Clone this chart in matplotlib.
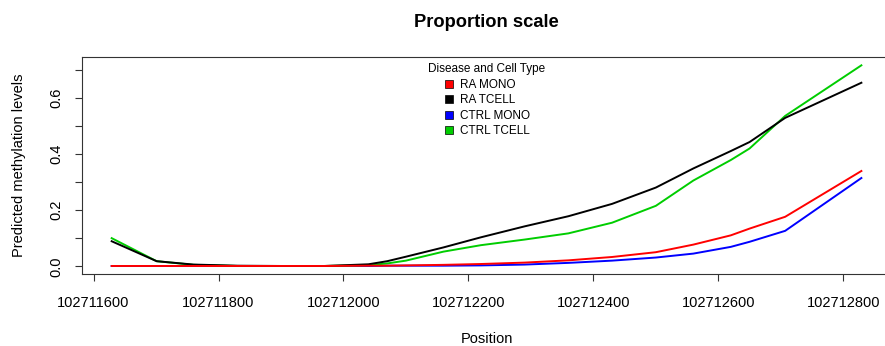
#!/usr/bin/env python
import numpy as np
from matplotlib import pyplot as plt
from matplotlib.lines import Line2D

plt.rcParams['font.family'] = ['Liberation Sans', 'DejaVu Sans']

# genomic position of each prediction
position = [102711629, 102711701, 102711760, 102711830, 102711900, 102711970,
            102712040, 102712070, 102712100, 102712160, 102712220, 102712290,
            102712360, 102712430, 102712500, 102712560, 102712620, 102712650,
            102712707, 102712829]

# predicted methylation (proportion) per group
ra_mono = [0.001, 0.001, 0.001, 0.001, 0.001, 0.001, 0.002, 0.002, 0.003,
           0.005, 0.008, 0.013, 0.021, 0.033, 0.050, 0.077, 0.110, 0.134,
           0.176, 0.339]
ra_tcell = [0.089, 0.018, 0.006, 0.002, 0.001, 0.001, 0.007, 0.018, 0.034,
            0.067, 0.103, 0.142, 0.178, 0.222, 0.280, 0.348, 0.410, 0.442,
            0.528, 0.653]
ctrl_mono = [0.001, 0.001, 0.001, 0.001, 0.001, 0.001, 0.001, 0.002, 0.002,
             0.002, 0.003, 0.006, 0.012, 0.020, 0.031, 0.045, 0.069, 0.087,
             0.126, 0.314]
ctrl_tcell = [0.100, 0.018, 0.005, 0.001, 0.001, 0.001, 0.004, 0.010, 0.020,
              0.052, 0.075, 0.095, 0.117, 0.155, 0.215, 0.305, 0.378, 0.419,
              0.535, 0.715]

groups = ['RA MONO', 'RA TCELL', 'CTRL MONO', 'CTRL TCELL']
colors = ['red', 'black', 'blue', '#00CD00']
series = [ra_mono, ra_tcell, ctrl_mono, ctrl_tcell]

x_ticks = [102711600, 102711800, 102712000, 102712200, 102712400,
           102712600, 102712800]
y_ticks = [0.0, 0.1, 0.2, 0.3, 0.4, 0.5, 0.6, 0.7]


def padded(vals, frac=0.04):
    lo, hi = np.min(vals), np.max(vals)
    ext = (hi - lo) * frac
    return lo - ext, hi + ext


fig = plt.figure(figsize=(8.85, 3.46), dpi=100)
ax = fig.add_axes([0.0923, 0.2081, 0.9149, 0.6263])

# drawing order: mono under tcell, RA on top
for i in [2, 3, 1, 0]:
    ax.plot(position, series[i], color=colors[i], lw=1.4)

ax.set_xlim(*padded(position))
ax.set_ylim(*padded(np.concatenate(series)))

ax.set_xticks(x_ticks)
ax.set_xticklabels([str(t) for t in x_ticks])
ax.set_yticks(y_ticks)
ax.set_yticklabels(['%.1f' % t if i % 2 == 0 else '' for i, t in enumerate(y_ticks)],
                   rotation=90, va='center')
ax.tick_params(axis='both', length=5, width=0.8, labelsize=10.5, color='#333333')
ax.tick_params(axis='x', pad=10.5)
ax.tick_params(axis='y', pad=8)
for sp in ax.spines.values():
    sp.set_linewidth(0.8)
    sp.set_color('#333333')

ax.set_title('Proportion scale', fontsize=13.2, fontweight='bold', pad=22)
ax.set_xlabel('Position', fontsize=10.5, labelpad=16)
ax.set_ylabel('Predicted methylation levels', fontsize=10.5, labelpad=17)

handles = [Line2D([], [], ls='none', marker='s', markersize=6, markerfacecolor=c,
                  markeredgecolor='black', markeredgewidth=0.5) for c in colors]
leg = ax.legend(handles, groups, title='Disease and Cell Type', loc='upper center',
                bbox_to_anchor=(0.5, 1.0), frameon=False, fontsize=8.5,
                title_fontsize=8.5, handlelength=1.0, handletextpad=0.5,
                labelspacing=0.3, borderaxespad=0.1)

fig.savefig('out.png', dpi=100)
